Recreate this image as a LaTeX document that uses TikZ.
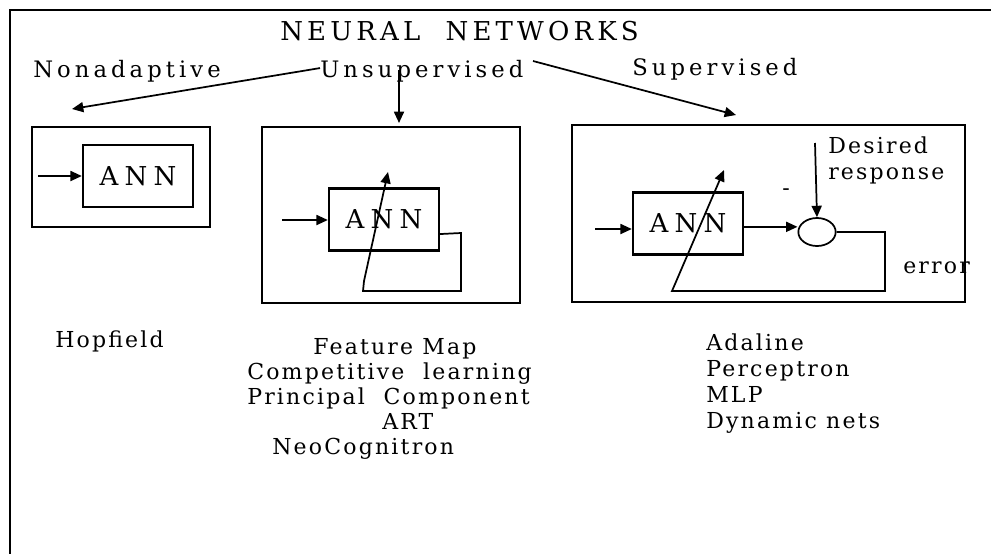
\documentclass[tikz,border=0pt]{standalone}
\usepackage{fontspec}
\setmainfont{DejaVu Serif}[LetterSpace=10]
\usetikzlibrary{arrows.meta,shapes.geometric,fit}
\begin{document}
\begin{tikzpicture}[x=0.75pt,y=-0.75pt,
  every node/.style={inner sep=0pt, font=\fontsize{16.5}{20}\selectfont},
  lbl/.style={anchor=base west},
  headlbl/.style={anchor=base west, font=\fontsize{17}{20}\selectfont\addfontfeature{LetterSpace=18}},
  caps/.style={font=\fontsize{19.5}{22}\selectfont\addfontfeature{LetterSpace=16}},
  outerbox/.style={draw, line width=1.8pt, inner sep=0pt},
  annbox/.style={draw, line width=1.8pt, minimum width=82.5pt, minimum height=46.5pt,
    font=\fontsize{19.5}{22}\selectfont\addfontfeature{LetterSpace=24}},
  conn/.style={line width=1.3pt},
  arr/.style={conn, -{Triangle[length=8.5pt,width=7.5pt]}},
  sumnode/.style={draw, ellipse, line width=1.3pt, minimum width=28pt, minimum height=21pt},
]
\useasboundingbox (0,0) rectangle (991,554);
\fill[white] (0,0) rectangle (991,554);

% page frame (top and left rules)
\draw[line width=2.2pt] (991,10) -- (10,10) -- (10,554);

% title and the three learning paradigms
\node[caps, lbl] (title) at (280,40) {NEURAL\hspace{19pt}NETWORKS};
\node[headlbl] (nonad) at (33,77) {Nonadaptive};
\node[headlbl] (unsup) at (320,77) {Unsupervised};
\node[headlbl] (sup) at (632,75) {Supervised};

\coordinate (tipN) at (72,109);
\coordinate (dnA) at (399,70);
\coordinate (dnB) at (399,123);
\coordinate (svA) at (533,61);
\coordinate (svB) at (736,115);
\draw[arr] ([yshift=2pt]unsup.west) -- (tipN);
\draw[arr] (dnA) -- (dnB);
\draw[arr] (svA) -- (svB);

% nonadaptive block
\node[outerbox, fit={(32,127) (210,227)}] (b1) {};
\node[annbox] (a1) at (138,176) {ANN};
\coordinate (in1) at (38,176);
\draw[arr] (in1) -- (a1.west);

% unsupervised block
\node[outerbox, fit={(262,127) (520,303)}] (b2) {};
\node[annbox] (a2) at (384,219.5) {ANN};
\coordinate (in2) at (282,220);
\draw[arr] (in2) -- (in2 -| a2.west);
\coordinate (tip2) at (388,172);
\draw[arr] ([yshift=-10.9pt]a2.east) -- (461,233) -- (461,291) -- (363,291)
  -- (364,281) -- (tip2);

% supervised block
\node[outerbox, fit={(572,125) (965,302)}] (b3) {};
\node[annbox] (a3) at (688,223.5) {ANN};
\coordinate (in3) at (595,229);
\draw[arr] (in3) -- (in3 -| a3.west);
\node[sumnode] (sum) at (817,232) {};
\draw[arr] ([yshift=-2.5pt]a3.east) -- ([yshift=-2.5pt]a3.east -| sum.west);
\coordinate (dtop) at (815,143);
\draw[arr] (dtop) -- (sum.north);
\node[lbl] (des) at (828,153) {Desired};
\node[lbl] (resp) at (828,179) {response};
\node (minus) at (786,192) {-};
\coordinate (tip3) at (724,170);
\draw[arr] (sum.east) -- (885,232) -- (885,291) -- (672,291) -- (tip3);
\node[lbl] (err) at (903,273) {error};

% examples of each paradigm
\node[lbl] (hop) at (55,347) {Hopfield};

\node[lbl] (fm) at (313,354) {Feature Map};
\node[lbl] (cl) at (247,379) {Competitive\hspace{14pt}learning};
\node[lbl] (pc) at (247,404) {Principal\hspace{14pt}Component};
\node[lbl] (art) at (382,429) {ART};
\node[lbl] (neo) at (272,454) {NeoCognitron};

\node[lbl] (ada) at (706,350) {Adaline};
\node[lbl] (per) at (706,376) {Perceptron};
\node[lbl] (mlp) at (706,402) {MLP};
\node[lbl] (dyn) at (706,428) {Dynamic nets};
\end{tikzpicture}
\end{document}
